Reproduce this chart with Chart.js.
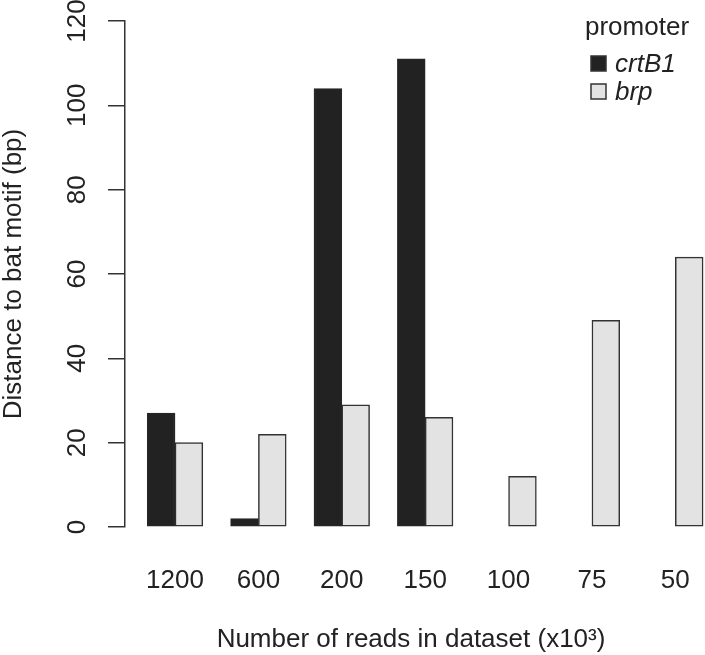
<!DOCTYPE html>
<html>
<head>
<meta charset="utf-8">
<script src="https://cdn.jsdelivr.net/npm/chart.js@4"></script>
<style>
html, body { margin: 0; padding: 0; overflow: hidden; background: #fff; }
canvas { display: block; }
</style>
</head>
<body>
<canvas id="chart" width="705" height="655"></canvas>
<script>
// Data.
const categories = ['1200', '600', '200', '150', '100', '75', '50'];
const crtB1 = [27, 2, 104, 111, null, null, null];
const brp = [20, 22, 29, 26, 12, 49, 64];
const yTicks = [0, 20, 40, 60, 80, 100, 120];
const seriesNames = ['crtB1', 'brp'];
const legendTitle = 'promoter';
const xTitle = 'Number of reads in dataset (x10³)';
const yTitle = 'Distance to bat motif (bp)';

const FONT = '"Liberation Sans", Arial, Helvetica, sans-serif';
const INK = '#222222';
const EDGE = '#333333';

// R barplot(beside = TRUE) layout: each group is a 1 unit gap then two 1 unit bars.
function groupPoints(values, slot) {
  const pts = [];
  values.forEach((v, i) => {
    if (v !== null) pts.push({x: i * 3 + slot, y: v});
  });
  return pts;
}

const legendBox = {
  id: 'legendBox',
  afterDraw(chart) {
    const ctx = chart.ctx;
    ctx.save();
    ctx.textBaseline = 'alphabetic';
    ctx.textAlign = 'left';
    ctx.fillStyle = INK;
    ctx.font = '26px ' + FONT;
    ctx.fillText(legendTitle, 585, 35);
    chart.data.datasets.forEach((ds, i) => {
      const base = 72 + i * 28;
      ctx.fillStyle = ds.backgroundColor;
      ctx.fillRect(591, base - 16, 15, 15);
      ctx.strokeStyle = EDGE;
      ctx.lineWidth = 1.5;
      ctx.strokeRect(591, base - 16, 15, 15);
      ctx.fillStyle = INK;
      ctx.font = 'italic 26px ' + FONT;
      ctx.fillText(ds.label, 615, base);
    });
    ctx.restore();
  },
};

const tickFont = {size: 26, family: FONT};

new Chart(document.getElementById('chart'), {
  type: 'bar',
  data: {
    datasets: [
      {
        label: seriesNames[0],
        data: groupPoints(crtB1, 1.5),
        backgroundColor: '#222222',
        borderColor: '#262626',
        borderWidth: 1.5,
        borderSkipped: false,
        clip: false,
      },
      {
        label: seriesNames[1],
        data: groupPoints(brp, 2.5),
        backgroundColor: '#e3e3e3',
        borderColor: EDGE,
        borderWidth: 1.5,
        borderSkipped: false,
        clip: false,
      },
    ],
  },
  options: {
    responsive: false,
    animation: false,
    devicePixelRatio: 1,
    grouped: false,
    barPercentage: 1,
    categoryPercentage: 1,
    layout: {padding: {top: 21, left: 0, right: 8, bottom: 0}},
    plugins: {
      legend: {display: false},
      tooltip: {enabled: false},
    },
    scales: {
      x: {
        type: 'linear',
        min: 0.2,
        max: 20.78,
        offset: false,
        grid: {display: false, drawTicks: false},
        border: {display: false},
        afterBuildTicks(scale) {
          scale.ticks = categories.map((c, i) => ({value: i * 3 + 2}));
        },
        ticks: {
          autoSkip: false,
          maxRotation: 0,
          minRotation: 0,
          padding: 38,
          color: INK,
          font: tickFont,
          callback: (v, i) => categories[i],
        },
        title: {
          display: true,
          text: xTitle,
          color: INK,
          font: {size: 26, family: FONT, lineHeight: 1.2},
          padding: 0,
        },
        afterFit(scale) {
          scale.height = 128;
          scale.paddingLeft = 0;
          scale.paddingRight = 0;
        },
      },
      y: {
        min: 0,
        max: 120,
        afterBuildTicks(scale) {
          scale.ticks = yTicks.map((v) => ({value: v}));
        },
        grid: {drawOnChartArea: false, drawTicks: true, tickLength: 17, color: EDGE, lineWidth: 1.5},
        border: {display: true, color: EDGE, width: 1.5},
        ticks: {
          minRotation: 90,
          maxRotation: 90,
          crossAlign: 'center',
          padding: 8,
          color: INK,
          font: tickFont,
        },
        title: {
          display: true,
          text: yTitle,
          color: INK,
          font: {size: 26, family: FONT, lineHeight: 1.1},
          padding: 0,
        },
        afterFit(scale) {
          scale.width = 125;
          scale.paddingTop = 0;
          scale.paddingBottom = 0;
        },
      },
    },
  },
  plugins: [legendBox],
});
</script>
</body>
</html>
